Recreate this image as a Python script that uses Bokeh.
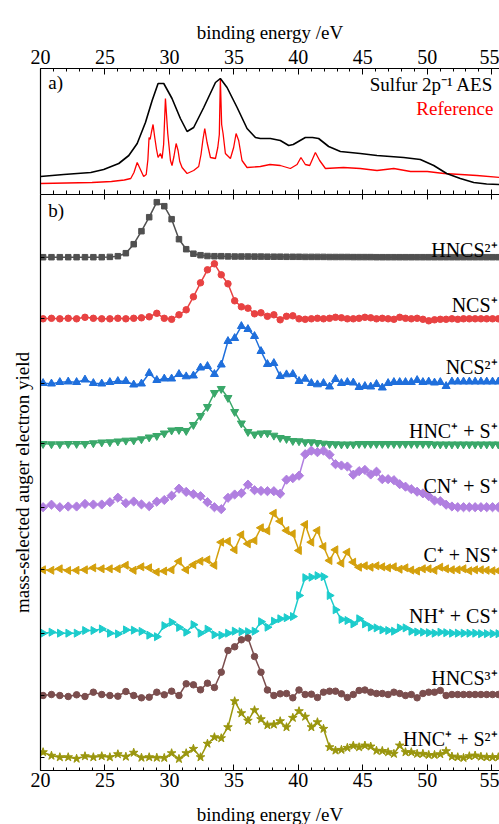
import math
from bokeh.plotting import figure
from bokeh.layouts import column
from bokeh.models import (Range1d, LinearAxis, SingleIntervalTicker, FixedTicker,
                          Label, ColumnDataSource)
from bokeh.transform import dodge
from bokeh.embed import file_html
from bokeh.resources import INLINE

FONT = "Liberation Serif"

# ---------------- panel a) : Sulfur 2p^-1 AES and reference ----------------
aes_x = [20.0, 21.8, 23.9, 24.9, 26.07, 26.85, 27.5, 28.14, 28.66, 29.12, 29.56, 30.2,
         30.85, 31.37, 31.88, 32.66, 33.57, 33.95, 34.47, 35.25, 36.02, 36.67, 37.05,
         37.83, 38.6, 39.25, 39.6, 40.54, 41.1, 41.57, 42.35, 43.26, 44.8, 46.1, 48.17,
         49.46, 50.5, 51.5, 52.56, 53.6, 54.6, 55.6]
aes_y = [0.18, 0.20, 0.22, 0.25, 0.31, 0.39, 0.51, 0.72, 0.94, 1.11, 1.11, 0.96,
         0.76, 0.63, 0.67, 0.87, 1.12, 1.16, 1.07, 0.87, 0.66, 0.57, 0.56,
         0.56, 0.54, 0.49, 0.50, 0.57, 0.57, 0.56, 0.48, 0.43, 0.41, 0.39, 0.37,
         0.35, 0.29, 0.21, 0.16, 0.12, 0.105, 0.10]

ref_x = [20.0, 22.0, 24.0, 25.5, 26.5, 27.0, 27.25, 27.5, 27.75, 28.0, 28.2, 28.33, 28.42,
         28.5, 28.6, 28.73, 28.85, 29.0, 29.12, 29.3, 29.43, 29.55, 29.69, 29.87, 30.08,
         30.2, 30.35, 30.52, 30.67, 30.8, 30.98, 31.37, 31.88, 32.27, 32.45, 32.6, 32.74,
         32.92, 33.18, 33.57, 33.75, 33.87, 33.95, 34.05, 34.16, 34.34, 34.73, 34.98,
         35.17, 35.37, 35.63, 36.02, 37.05, 37.8, 38.6, 39.38, 39.9, 40.2, 40.54, 40.88,
         41.32, 41.65, 42.1, 43.5, 44.8, 46.1, 47.4, 48.7, 50.0, 51.3, 52.6, 53.85, 55.6]
ref_y = [0.11, 0.115, 0.12, 0.13, 0.145, 0.16, 0.22, 0.32, 0.25, 0.18, 0.2, 0.35, 0.57,
         0.55, 0.62, 0.70, 0.58, 0.45, 0.37, 0.41, 0.36, 0.5, 0.96, 0.61, 0.34,
         0.29, 0.38, 0.51, 0.44, 0.33, 0.27, 0.21, 0.24, 0.28, 0.4, 0.55, 0.66,
         0.52, 0.37, 0.36, 0.47, 0.6, 1.16, 0.7, 0.61, 0.41, 0.36, 0.47,
         0.61, 0.54, 0.34, 0.27, 0.28, 0.30, 0.29, 0.26, 0.30, 0.37, 0.30, 0.29,
         0.42, 0.34, 0.26, 0.27, 0.26, 0.24, 0.26, 0.23, 0.23, 0.21, 0.20, 0.19, 0.17]

# ---------------- panel b) : mass-selected Auger electron yields ----------------
energy = [20.2, 20.85, 21.5, 22.15, 22.8, 23.45, 24.1, 24.75, 25.38, 26.0,
          26.62, 27.23, 27.83, 28.43, 29.02, 29.6, 30.17, 30.74, 31.3, 31.86,
          32.41, 32.95, 33.49, 34.02, 34.54, 35.06, 35.58, 36.09, 36.6, 37.1,
          37.6, 38.1, 38.59, 39.08, 39.57, 40.05, 40.53, 41.01, 41.48, 41.95,
          42.42, 42.88, 43.34, 43.8, 44.26, 44.71, 45.16, 45.61, 46.06, 46.51,
          46.96, 47.41, 47.86, 48.31, 48.76, 49.21, 49.66, 50.11, 50.56, 51.01,
          51.46, 51.91, 52.36, 52.81, 53.26, 53.71, 54.16, 54.61, 55.06, 55.51]

hncs2 = [0, 0, 0, 0, 0, 0, 0, 0, 0.3, 1,
         4, 13, 26, 40, 55, 51, 38, 18, 8, 3.5,
         2, 1.2, 1, 1, 0.8, 0.7, 0.7, 0.7, 0.6, 0.6,
         0.5, 0.5, 0.5, 0.4, 0.4, 0.4, 0.3, 0.3, 0.3, 0.3,
         0.2, 0.2, 0.2, 0.2, 0.1, 0.1, 0.1, 0.1, 0, 0,
         0, 0, 0, 0, 0, 0, 0, 0, 0, 0,
         0, 0, 0, 0, 0, 0, 0, 0, 0, 0]
ncs1 = [0, 0.5, 0, 0.5, 0, 1.5, 0.5, 0, 0, 0.5,
        0, 0.5, 1, 2, 5.5, 0.5, -0.5, 4, 9, 22,
        36, 49, 55, 44, 35, 18, 12, 10.6, 5, 6,
        2.5, 4, -1, 2.5, 3, 0, -0.5, 0, 0.5, 0,
        0.5, 1.5, 1, 0, 0, 0.5, 1.5, 1, 0, 0.5,
        0, -0.5, 1.5, 0.5, 0, 0.5, -0.5, -2, -1, -0.5,
        -0.5, 0, -0.5, 0, 0, 0, 0, 0, 0, 0]
ncs2 = [0, -0.5, 1, 1.5, 1, 3.5, 0, -0.5, 1, 2,
        2, -1.5, -0.5, 10, 3, 4.5, 4.5, 9, 6.7, 7.5,
        15.5, 17, 9, 18.5, 42, 45, 57, 54, 47, 32,
        19, 20, 7, 8.7, 9, 2, 4.3, 0, -1.3, 0,
        -3.5, 4, 0, 1, 0.5, -4, -3, -3.5, -1, -4.5,
        0, 1, 1, 1, 1, 3, 1, 1.5, 0.5, 1,
        -3, 1.5, 1.5, 1.5, 1.5, 1.5, 1.5, 1.5, 1.5, 1.5]
hnc_s = [0, -0.3, -0.3, 0, 0, 0, 0.7, 1.5, 1.7, 2.5,
         3.3, 3.5, 4.7, 6.5, 8, 10.5, 13.5, 14, 13, 19,
         28, 37, 51, 55, 46, 32, 20.5, 12, 9.5, 10.5,
         10.7, 8.3, 6, 5, 3, 2.7, 1.7, 1.7, 1, 0.3,
         0, -0.3, -0.5, -0.5, -0.5, 0, 0, 0, 0, 0,
         0, 0, 0, 0, 0, 0, 0, 0, -0.5, -0.5,
         -0.5, -0.5, -0.5, -0.5, -0.5, -0.5, -0.5, -0.5, -0.5, -0.5]
cn_s = [0, 2.5, 0, 0.7, 0.7, 3.3, 2.7, 2.7, 5, 9.5,
        4, 5.7, 2.8, 1, 5.5, 7.2, 11.5, 18.5, 15.3, 13,
        11, 5, 0, -2, 9.4, 12.7, 14, 22.5, 17, 16.3,
        16, 16, 13.5, 27.5, 29, 31.5, 53, 56.5, 55, 56.5,
        52.5, 43, 41.7, 40.7, 32.5, 36, 37.3, 32.7, 35.5, 28,
        28, 27, 23, 20.5, 18, 15.5, 13.8, 11, 6.7, 6,
        2.5, 0.7, 0, 0, 0, 0, 0, 0, 0, 0]
c_ns = [0, -0.5, 1, -0.7, -0.5, 0, 2, 1, 1, 1,
        4.5, -0.5, 3, 2, -2.3, -1.3, 0, 8.5, 0, 5,
        8.6, 10, 4.5, 27.6, 28.5, 20, 35, 26, 29.3, 42,
        39, 56.5, 48.6, 39.3, 36, 19.3, 45.3, 27.6, 39.3, 23.3,
        9.3, 20, 6.6, 17.6, 7.6, 2.6, 4, 2.6, 4, 3,
        2, 3, 0.6, 2, -0.3, -1.3, 1, 1, -0.5, 2.6,
        1, 0, 0, 1, -1, 0, 0, -0.5, -1, -1]
nh_cs = [0, 1, 0, 0, 0, 2.7, 2.7, 4.3, 0, -0.7,
         3.3, 3, 1.8, -2, -3.5, 7.5, 11, 5.8, 1, 8.5,
         0, 4, -1.5, -2, 0, 2, 1.5, 1.5, 2, 11.5,
         6, 12, 14.4, 15.5, 16.7, 37.7, 55.5, 56, 57.5, 56.5,
         37.7, 23.4, 13.8, 12.7, 9.3, 14.4, 9.3, 6, 5.3, 3.3,
         2.7, 2, 5.3, 5.3, 2, 1.2, 1, 0.5, 0, 1,
         0.5, 0, 0, 0, 0, 0, -0.5, -0.5, -0.5, -0.5]
hncs3 = [0, 1, 0, -1, 0.7, -1, 3.3, 1, 0, -0.7,
         4, 0, -2.3, -1.7, 3.3, 0.7, 4.3, 0, 11.7, 10.7,
         5.7, 12.3, 8, 23.3, 45, 48.7, 55.7, 57.5, 39, 23.3,
         5.5, 0, 1.7, 2, -2.3, 5.5, 1, 1.3, -2, 3.3,
         4.3, 4.3, 1.7, -2, 1, 5, 5.5, 3.3, 2, 2,
         1, 3.3, 2, 0, 1, -2.3, 2, 3.3, 3.3, 5,
         0, 1, 1, 1, 1, 1, 1, 1, 1, 1]
hnc_s2 = [5, 1.5, 0, 0, -1.5, 1, 0, 1, 0, 3,
          0.5, 4.5, -0.5, 0, -0.5, -0.7, 4, -1.7, 4, 8.4,
          0, 13.5, 20, 19, 30, 56, 44, 36.5, 47, 38,
          32, 32.7, 36, 30, 39.4, 46, 40.5, 30, 35, 28.4,
          10, 6.7, 7.4, 9.4, 11.5, 10, 11.7, 10.7, 6.5, 6.3,
          5, 3.4, 11.7, 5, 5, 3.4, 3.4, 2.3, 2.3, 3,
          6, 0.7, 0, -0.7, 1, 1.7, 0.5, 0, 0, 0]

series_keys = ["hncs2", "ncs1", "ncs2", "hnc_s", "cn_s", "c_ns", "nh_cs", "hncs3", "hnc_s2"]
series_labels = ["HNCS²⁺", "NCS⁺", "NCS²⁺", "HNC⁺ + S⁺", "CN⁺ + S⁺",
                 "C⁺ + NS⁺", "NH⁺ + CS⁺", "HNCS³⁺", "HNC⁺ + S²⁺"]
offsets = [513.3, 451.7, 387.3, 326.7, 263.3, 200.7, 137.3, 75.0, 13.3]

# styles
colors = ["#505050", "#e84242", "#1f6fdc", "#3aa86a", "#b07fe0",
          "#d4a00c", "#1ccccc", "#7b4e4e", "#9a960e"]
markers = ["square", "circle", "triangle", "inverted_triangle", "square",
           "triangle", "triangle", "circle", "star"]
angles = [0, 0, 0, 0, math.pi / 4, math.pi / 2, -math.pi / 2, 0, 0]
sizes = [5.5, 6.5, 8, 8, 6.5, 8, 8, 6.5, 9]
label_nudge = [-4, 3, 5, 1.5, 10, 4, 6, 7, 7]

src = ColumnDataSource(dict(energy=energy, hncs2=hncs2, ncs1=ncs1, ncs2=ncs2, hnc_s=hnc_s,
                            cn_s=cn_s, c_ns=c_ns, nh_cs=nh_cs, hncs3=hncs3, hnc_s2=hnc_s2))

x_range = Range1d(20, 55.6)


def x_axis(labels, title=None, tick_in=6, minor_in=3, standoff=5, title_standoff=7):
    ax = LinearAxis(ticker=SingleIntervalTicker(interval=5, num_minor_ticks=5))
    ax.axis_line_color = "black"
    ax.axis_line_width = 1.2
    ax.major_tick_line_color = "black"
    ax.minor_tick_line_color = "black"
    ax.major_tick_in = tick_in
    ax.major_tick_out = 0
    ax.minor_tick_in = minor_in
    ax.minor_tick_out = 0
    if labels:
        ax.major_label_text_font = FONT
        ax.major_label_text_font_size = "20px"
        ax.major_label_text_color = "black"
        ax.major_label_standoff = standoff
    else:
        ax.major_label_text_color = None
        ax.major_label_text_font_size = "0px"
        ax.major_label_standoff = 0
    if title:
        ax.axis_label = title
        ax.axis_label_text_font = FONT
        ax.axis_label_text_font_size = "19px"
        ax.axis_label_text_font_style = "normal"
        ax.axis_label_text_color = "black"
        ax.axis_label_standoff = title_standoff
    return ax


# ---------------- top figure ----------------
p1 = figure(frame_width=459, frame_height=126, x_range=x_range, y_range=Range1d(0, 1.26),
            x_axis_location=None, y_axis_location=None, output_backend="svg",
            toolbar_location=None, min_border_left=40, min_border_right=0,
            min_border_top=68, min_border_bottom=0)
p1.outline_line_color = None
p1.grid.visible = False
p1.add_layout(x_axis(True, "binding energy /eV", tick_in=6, minor_in=3, standoff=5,
                     title_standoff=4), "above")
p1.add_layout(x_axis(False, tick_in=5, minor_in=4), "below")
lax1 = LinearAxis(ticker=FixedTicker(ticks=[]), major_label_text_font_size="0px",
                  major_label_text_color=None,
                  major_tick_in=0, major_tick_out=0, axis_line_color="black",
                  axis_line_width=1.2)
p1.add_layout(lax1, "left")

p1.line(ref_x, ref_y, line_color="#ff0000", line_width=1.3)
p1.line(aes_x, aes_y, line_color="black", line_width=1.6)

p1.add_layout(Label(x=20.6, y=1.015, text="a)", text_font=FONT, text_font_size="19px",
                    text_color="black"))
p1.add_layout(Label(x=55.12, y=0.995, text="Sulfur 2p⁻¹ AES", text_align="right",
                    text_font=FONT, text_font_size="19px", text_color="black"))
p1.add_layout(Label(x=55.12, y=0.76, text="Reference", text_align="right",
                    text_font=FONT, text_font_size="19px", text_color="#ff0000"))

# ---------------- bottom figure ----------------
p2 = figure(frame_width=459, frame_height=576, x_range=x_range, y_range=Range1d(0, 576),
            x_axis_location=None, y_axis_location=None, output_backend="svg",
            toolbar_location=None, min_border_left=40, min_border_right=0,
            min_border_top=0, min_border_bottom=0)
p2.outline_line_color = None
p2.grid.visible = False
p2.add_layout(x_axis(False, tick_in=5, minor_in=0), "above")
p2.add_layout(x_axis(True, "binding energy /eV", tick_in=6, minor_in=3, standoff=2,
                     title_standoff=14), "below")
lax2 = LinearAxis(ticker=FixedTicker(ticks=offsets), major_label_text_font_size="0px",
                  major_label_text_color=None,
                  major_label_standoff=0, major_tick_in=4, major_tick_out=0,
                  major_tick_line_color="black", axis_line_color="black",
                  axis_line_width=1.2,
                  axis_label="mass-selected auger electron yield",
                  axis_label_text_font=FONT, axis_label_text_font_size="19px",
                  axis_label_text_font_style="normal", axis_label_text_color="black",
                  axis_label_standoff=8)
p2.add_layout(lax2, "left")

for key, lab, off, col, mk, ang, sz, nud in zip(series_keys, series_labels, offsets, colors,
                                               markers, angles, sizes, label_nudge):
    yv = dodge(key, off, range=p2.y_range)
    p2.line(x="energy", y=yv, source=src, line_color=col, line_width=1.5)
    p2.scatter(x="energy", y=yv, source=src, marker=mk, angle=ang, size=sz,
               fill_color=col, line_color=col)
    p2.add_layout(Label(x=55.45, y=off + nud, text=lab, text_align="right",
                        text_font=FONT, text_font_size="20px", text_color="black"))

p2.add_layout(Label(x=20.6, y=550, text="b)", text_font=FONT, text_font_size="19px",
                    text_color="black"))

layout = column(p1, p2, spacing=0)
open("out.html", "w").write(file_html(layout, INLINE))
